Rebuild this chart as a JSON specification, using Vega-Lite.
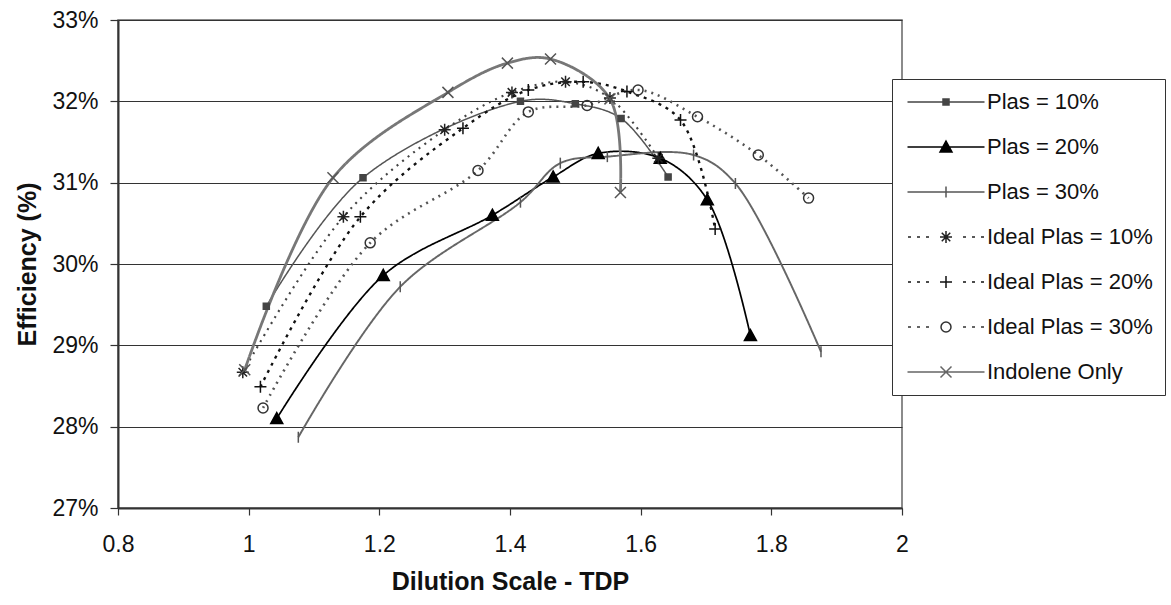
{
  "$schema": "https://vega.github.io/schema/vega-lite/v6.json",
  "width": 784,
  "height": 488,
  "autosize": {"type": "none"},
  "padding": {"left": 118, "top": 20, "right": 269, "bottom": 97},
  "background": "white",
  "config": {
    "font": "Liberation Sans",
    "view": {"stroke": "#666", "strokeWidth": 1.5},
    "axis": {
      "labelFont": "Liberation Sans",
      "labelFontSize": 23,
      "labelColor": "#111",
      "titleFont": "Liberation Sans",
      "titleFontSize": 25,
      "titleFontWeight": "bold",
      "titleColor": "#111",
      "domainColor": "#333",
      "domainWidth": 2,
      "tickColor": "#333",
      "tickWidth": 1.2
    }
  },
  "data": {
    "values": [
      {"series": "Plas = 10%", "x": 1.027, "y": 0.2948},
      {"series": "Plas = 10%", "x": 1.175, "y": 0.3106},
      {"series": "Plas = 10%", "x": 1.416, "y": 0.3200},
      {"series": "Plas = 10%", "x": 1.500, "y": 0.3197},
      {"series": "Plas = 10%", "x": 1.570, "y": 0.3179},
      {"series": "Plas = 10%", "x": 1.642, "y": 0.3107},
      {"series": "Plas = 20%", "x": 1.043, "y": 0.2810},
      {"series": "Plas = 20%", "x": 1.206, "y": 0.2986},
      {"series": "Plas = 20%", "x": 1.373, "y": 0.3060},
      {"series": "Plas = 20%", "x": 1.466, "y": 0.3107},
      {"series": "Plas = 20%", "x": 1.535, "y": 0.3136},
      {"series": "Plas = 20%", "x": 1.630, "y": 0.3130},
      {"series": "Plas = 20%", "x": 1.702, "y": 0.3079},
      {"series": "Plas = 20%", "x": 1.768, "y": 0.2912},
      {"series": "Plas = 30%", "x": 1.076, "y": 0.2787},
      {"series": "Plas = 30%", "x": 1.232, "y": 0.2972},
      {"series": "Plas = 30%", "x": 1.416, "y": 0.3076},
      {"series": "Plas = 30%", "x": 1.477, "y": 0.3124},
      {"series": "Plas = 30%", "x": 1.549, "y": 0.3132},
      {"series": "Plas = 30%", "x": 1.681, "y": 0.3134},
      {"series": "Plas = 30%", "x": 1.745, "y": 0.3099},
      {"series": "Plas = 30%", "x": 1.876, "y": 0.2892},
      {"series": "Ideal Plas = 10%", "x": 0.991, "y": 0.2867},
      {"series": "Ideal Plas = 10%", "x": 1.145, "y": 0.3058},
      {"series": "Ideal Plas = 10%", "x": 1.300, "y": 0.3165},
      {"series": "Ideal Plas = 10%", "x": 1.403, "y": 0.3211},
      {"series": "Ideal Plas = 10%", "x": 1.485, "y": 0.3224},
      {"series": "Ideal Plas = 10%", "x": 1.553, "y": 0.3204},
      {"series": "Ideal Plas = 10%", "x": 1.627, "y": 0.3130},
      {"series": "Ideal Plas = 20%", "x": 1.018, "y": 0.2849},
      {"series": "Ideal Plas = 20%", "x": 1.171, "y": 0.3058},
      {"series": "Ideal Plas = 20%", "x": 1.328, "y": 0.3167},
      {"series": "Ideal Plas = 20%", "x": 1.428, "y": 0.3214},
      {"series": "Ideal Plas = 20%", "x": 1.512, "y": 0.3224},
      {"series": "Ideal Plas = 20%", "x": 1.579, "y": 0.3212},
      {"series": "Ideal Plas = 20%", "x": 1.661, "y": 0.3177},
      {"series": "Ideal Plas = 20%", "x": 1.714, "y": 0.3043},
      {"series": "Ideal Plas = 30%", "x": 1.022, "y": 0.2823},
      {"series": "Ideal Plas = 30%", "x": 1.186, "y": 0.3026},
      {"series": "Ideal Plas = 30%", "x": 1.351, "y": 0.3115},
      {"series": "Ideal Plas = 30%", "x": 1.428, "y": 0.3187},
      {"series": "Ideal Plas = 30%", "x": 1.518, "y": 0.3195},
      {"series": "Ideal Plas = 30%", "x": 1.596, "y": 0.3214},
      {"series": "Ideal Plas = 30%", "x": 1.687, "y": 0.3181},
      {"series": "Ideal Plas = 30%", "x": 1.780, "y": 0.3134},
      {"series": "Ideal Plas = 30%", "x": 1.857, "y": 0.3081},
      {"series": "Indolene Only", "x": 0.994, "y": 0.2870},
      {"series": "Indolene Only", "x": 1.129, "y": 0.3106},
      {"series": "Indolene Only", "x": 1.305, "y": 0.3211},
      {"series": "Indolene Only", "x": 1.396, "y": 0.3247},
      {"series": "Indolene Only", "x": 1.462, "y": 0.3252},
      {"series": "Indolene Only", "x": 1.553, "y": 0.3203},
      {"series": "Indolene Only", "x": 1.569, "y": 0.3088}
    ]
  },
  "encoding": {
    "x": {
      "field": "x", "type": "quantitative",
      "scale": {"domain": [0.8, 2], "nice": false, "zero": false},
      "axis": {
        "title": "Dilution Scale - TDP",
        "values": [0.8, 1, 1.2, 1.4, 1.6, 1.8, 2],
        "format": "~g",
        "grid": false,
        "tickSize": 7,
        "labelPadding": 18,
        "titlePadding": 13,
        "labelFlush": false
      }
    },
    "y": {
      "field": "y", "type": "quantitative",
      "scale": {"domain": [0.27, 0.33], "nice": false, "zero": false},
      "axis": {
        "title": "Efficiency (%)",
        "values": [0.27, 0.28, 0.29, 0.30, 0.31, 0.32, 0.33],
        "format": ".0%",
        "grid": true,
        "gridColor": "#333",
        "gridWidth": 1.2,
        "tickSize": 8,
        "labelPadding": 12,
        "titlePadding": 11,
        "labelFlush": false
      }
    }
  },
  "layer": [
    {
      "mark": {"type": "line", "interpolate": "catmull-rom", "opacity": 1},
      "encoding": {
        "stroke": {
          "field": "series", "type": "nominal", "legend": null,
          "scale": {
            "domain": ["Plas = 10%", "Plas = 20%", "Plas = 30%", "Ideal Plas = 10%", "Ideal Plas = 20%", "Ideal Plas = 30%", "Indolene Only"],
            "range": ["#555555", "#000000", "#666666", "#444444", "#111111", "#555555", "#777777"]
          }
        },
        "strokeWidth": {
          "field": "series", "type": "nominal", "legend": null,
          "scale": {
            "domain": ["Plas = 10%", "Plas = 20%", "Plas = 30%", "Ideal Plas = 10%", "Ideal Plas = 20%", "Ideal Plas = 30%", "Indolene Only"],
            "range": [1.5, 2.8, 1.5, 2, 2.5, 2, 1.5]
          }
        },
        "strokeDash": {
          "field": "series", "type": "nominal", "legend": null,
          "scale": {
            "domain": ["Plas = 10%", "Plas = 20%", "Plas = 30%", "Ideal Plas = 10%", "Ideal Plas = 20%", "Ideal Plas = 30%", "Indolene Only"],
            "range": [[1, 0], [1, 0], [1, 0], [2, 5], [3, 5], [2, 5], [1, 0]]
          }
        }
      }
    },
    {
      "mark": {"type": "point", "filled": true, "opacity": 1, "strokeWidth": 1.5, "size": 100},
      "encoding": {
        "shape": {
          "field": "series", "type": "nominal", "legend": null,
          "scale": {
            "domain": ["Plas = 10%", "Plas = 20%", "Plas = 30%", "Ideal Plas = 10%", "Ideal Plas = 20%", "Ideal Plas = 30%", "Indolene Only"],
            "range": [
              "M-0.6,-0.6H0.6V0.6H-0.6Z",
              "M0,-1.2L1.2,1L-1.2,1Z",
              "M0,-1.1V1.1",
              "M-1.2,0H1.2M0,-1.2V1.2M-0.85,-0.85L0.85,0.85M-0.85,0.85L0.85,-0.85",
              "M-1.2,0H1.2M0,-1.2V1.2",
              "M1,0A1,1,0,1,1,-1,0A1,1,0,1,1,1,0Z",
              "M-1.1,-1.1L1.1,1.1M-1.1,1.1L1.1,-1.1"
            ]
          }
        },
        "stroke": {
          "field": "series", "type": "nominal", "legend": null,
          "scale": {
            "domain": ["Plas = 10%", "Plas = 20%", "Plas = 30%", "Ideal Plas = 10%", "Ideal Plas = 20%", "Ideal Plas = 30%", "Indolene Only"],
            "range": ["#444444", "#000000", "#555555", "#222222", "#111111", "#333333", "#555555"]
          }
        },
        "fill": {
          "field": "series", "type": "nominal", "legend": null,
          "scale": {
            "domain": ["Plas = 10%", "Plas = 20%", "Plas = 30%", "Ideal Plas = 10%", "Ideal Plas = 20%", "Ideal Plas = 30%", "Indolene Only"],
            "range": ["#444444", "#000000", "transparent", "transparent", "transparent", "transparent", "transparent"]
          }
        }
      }
    },
    {
      "transform": [{"filter": "false"}],
      "mark": {"type": "point", "filled": true, "opacity": 1, "strokeWidth": 1.5, "size": 100},
      "encoding": {
        "shape": {
          "field": "series", "type": "nominal",
          "scale": {
            "domain": ["Plas = 10%", "Plas = 20%", "Plas = 30%", "Ideal Plas = 10%", "Ideal Plas = 20%", "Ideal Plas = 30%", "Indolene Only"],
            "range": [
              "M-7.7,0H7.7M-0.6,-0.6H0.6V0.6H-0.6Z",
              "M-7.7,0H7.7M0,-1.2L1.2,1L-1.2,1Z",
              "M-7.7,0H7.7M0,-1.1V1.1",
              "M-7.6,0H-7M-5.8,0H-5.2M-4,0H-3.4M3.4,0H4M5.2,0H5.8M7,0H7.6M-1.2,0H1.2M0,-1.2V1.2M-0.85,-0.85L0.85,0.85M-0.85,0.85L0.85,-0.85",
              "M-7.6,0H-7M-5.8,0H-5.2M-4,0H-3.4M3.4,0H4M5.2,0H5.8M7,0H7.6M-1.2,0H1.2M0,-1.2V1.2",
              "M-7.6,0H-7M-5.8,0H-5.2M-4,0H-3.4M3.4,0H4M5.2,0H5.8M7,0H7.6M1,0A1,1,0,1,1,-1,0A1,1,0,1,1,1,0",
              "M-7.7,0H7.7M-1.1,-1.1L1.1,1.1M-1.1,1.1L1.1,-1.1"
            ]
          },
          "legend": {
            "title": null,
            "orient": "none",
            "legendX": 774,
            "legendY": 59,
            "symbolSize": 100,
            "symbolStrokeWidth": 1.5,
            "symbolOpacity": 1,
            "labelFont": "Liberation Sans",
            "labelFontSize": 22,
            "labelColor": "#111",
            "labelLimit": 400,
            "strokeColor": "#333",
            "fillColor": "white",
            "padding": 12,
            "rowPadding": 23,
            "symbolOffset": 31,
            "labelOffset": 30
          }
        },
        "stroke": {
          "field": "series", "type": "nominal",
          "scale": {
            "domain": ["Plas = 10%", "Plas = 20%", "Plas = 30%", "Ideal Plas = 10%", "Ideal Plas = 20%", "Ideal Plas = 30%", "Indolene Only"],
            "range": ["#444444", "#000000", "#555555", "#222222", "#111111", "#333333", "#666666"]
          },
          "legend": {"title": null, "orient": "none", "legendX": 774, "legendY": 59}
        },
        "fill": {
          "field": "series", "type": "nominal",
          "scale": {
            "domain": ["Plas = 10%", "Plas = 20%", "Plas = 30%", "Ideal Plas = 10%", "Ideal Plas = 20%", "Ideal Plas = 30%", "Indolene Only"],
            "range": ["#444444", "#000000", "transparent", "transparent", "transparent", "transparent", "transparent"]
          },
          "legend": {"title": null, "orient": "none", "legendX": 774, "legendY": 59}
        }
      }
    }
  ],
  "resolve": {"scale": {"shape": "independent", "stroke": "independent", "fill": "independent", "strokeWidth": "independent", "strokeDash": "independent"}}
}
